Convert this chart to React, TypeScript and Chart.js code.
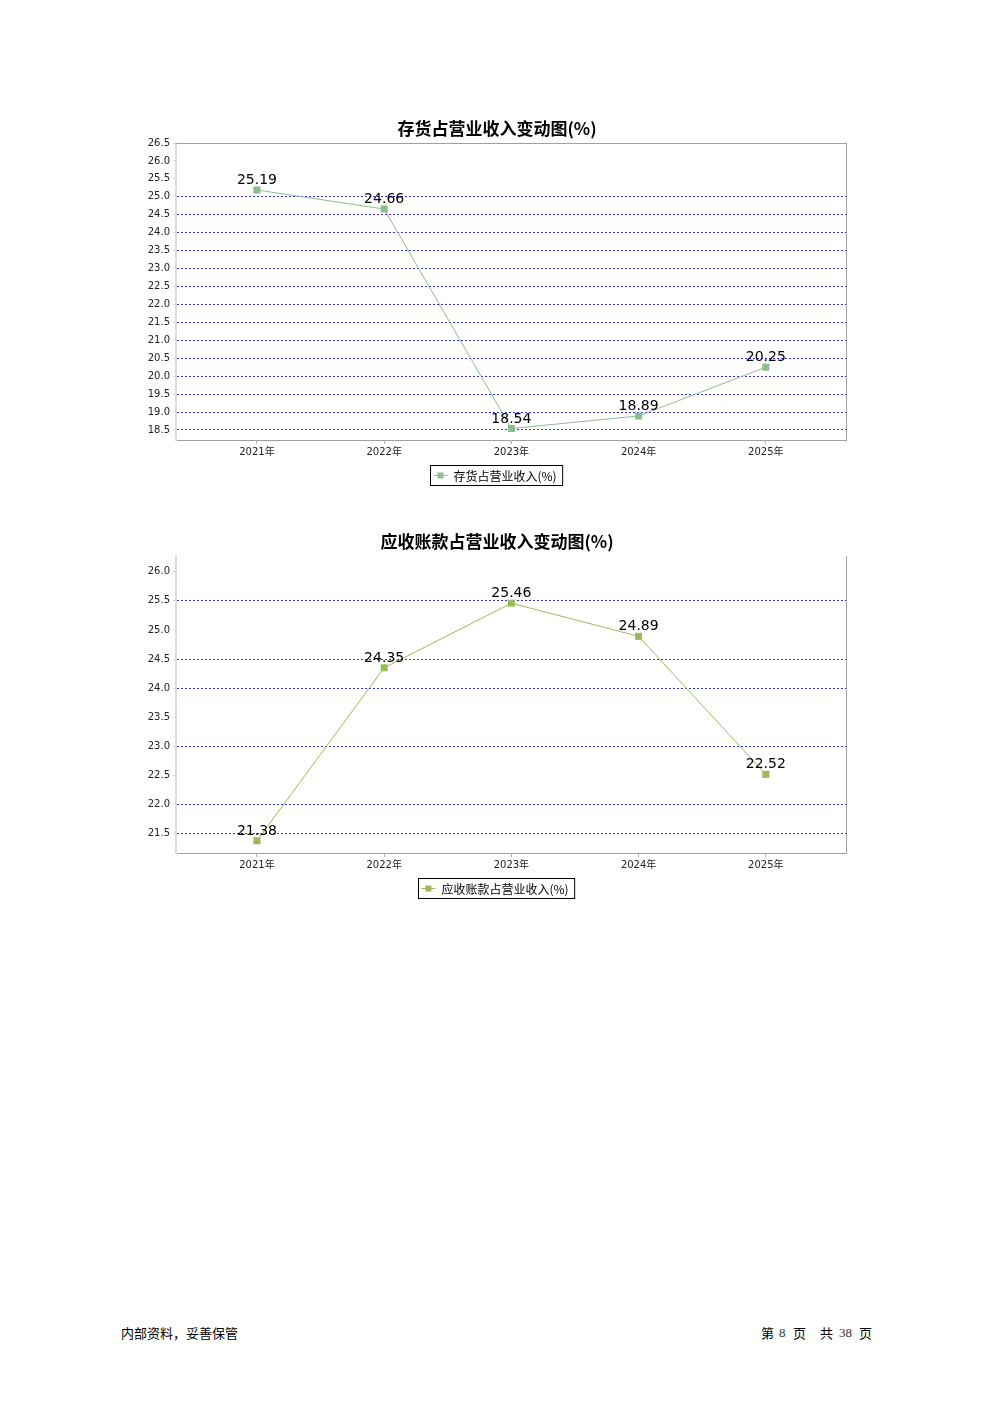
import React, { useEffect, useRef } from "react";
import { Chart, registerables } from "chart.js";

Chart.register(...registerables);

const years = ["2021年", "2022年", "2023年", "2024年", "2025年"];
const inventoryValues = [25.19, 24.66, 18.54, 18.89, 20.25];
const receivableValues = [21.38, 24.35, 25.46, 24.89, 22.52];
const inventoryTicks = [18.5, 19.0, 19.5, 20.0, 20.5, 21.0, 21.5, 22.0, 22.5, 23.0, 23.5, 24.0, 24.5, 25.0, 25.5, 26.0, 26.5];
const receivableTicks = [21.5, 22.0, 22.5, 23.0, 23.5, 24.0, 24.5, 25.0, 25.5, 26.0];
const inventoryHiddenGrid = [25.5, 26.0, 26.5];
const receivableHiddenGrid = [26.0, 25.0, 23.5, 22.5];

const CANVAS_W = 720;
const CANVAS_H = 390;
const CJK = "'Noto Sans CJK SC', 'DejaVu Sans', sans-serif";
const NUM = "'DejaVu Sans', 'Noto Sans CJK SC', sans-serif";

type PanelProps = {
  top: number;
  title: string;
  legend: string;
  values: number[];
  ticks: number[];
  hiddenGrid: number[];
  yMin: number;
  yMax: number;
  color: string;
  topBorder: boolean;
};

function Panel(props: PanelProps) {
  const ref = useRef<HTMLCanvasElement | null>(null);
  useEffect(() => {
    const canvas = ref.current;
    if (!canvas) return;
    const { title, legend, values, ticks, hiddenGrid, yMin, yMax, color, topBorder } = props;

    const decorPlugin = {
      id: "decor",
      beforeDatasetsDraw(chart: any) {
        const { ctx, chartArea } = chart;
        ctx.save();
        ctx.strokeStyle = "#a0a0a0";
        ctx.lineWidth = 1;
        ctx.beginPath();
        if (topBorder) {
          ctx.moveTo(chartArea.left, chartArea.top + 0.5);
          ctx.lineTo(chartArea.right, chartArea.top + 0.5);
        }
        ctx.moveTo(chartArea.right + 0.5, chartArea.top);
        ctx.lineTo(chartArea.right + 0.5, chartArea.bottom);
        ctx.stroke();
        ctx.restore();
      },
      afterDatasetsDraw(chart: any) {
        const { ctx } = chart;
        const meta = chart.getDatasetMeta(0);
        ctx.save();
        ctx.fillStyle = "#000";
        ctx.font = "14px " + NUM;
        ctx.textAlign = "center";
        ctx.textBaseline = "alphabetic";
        meta.data.forEach((pt: any, i: number) => {
          ctx.fillText(values[i].toFixed(2), pt.x, pt.y - 6);
        });
        ctx.restore();
      },
      afterDraw(chart: any) {
        const { ctx } = chart;
        ctx.save();
        // title
        ctx.fillStyle = "#000";
        ctx.font = "bold 17px " + CJK;
        ctx.textAlign = "center";
        ctx.textBaseline = "middle";
        ctx.fillText(title, 357, 19);
        // legend
        ctx.font = "12px " + CJK;
        const tw = ctx.measureText(legend).width;
        const bw = tw + 29;
        const bh = 20;
        const bx = Math.round(356 - bw / 2) + 0.5;
        const by = 355.5;
        ctx.strokeStyle = "#000";
        ctx.lineWidth = 1;
        ctx.strokeRect(bx, by, bw, bh);
        ctx.strokeStyle = color;
        ctx.beginPath();
        ctx.moveTo(bx + 3, by + bh / 2);
        ctx.lineTo(bx + 17, by + bh / 2);
        ctx.stroke();
        ctx.fillStyle = color;
        ctx.fillRect(bx + 7, by + bh / 2 - 3, 6, 6);
        ctx.fillStyle = "#000";
        ctx.textAlign = "left";
        ctx.fillText(legend, bx + 23, by + bh / 2 + 0.5);
        ctx.restore();
      },
    };

    const chart = new Chart(canvas, {
      type: "line",
      data: {
        datasets: [
          {
            label: legend,
            data: values.map((v, i) => ({ x: i, y: v })),
            borderColor: color,
            backgroundColor: color,
            borderWidth: 1,
            pointStyle: "rect",
            pointRadius: 5,
            pointBorderWidth: 0,
            pointBackgroundColor: color,
            pointBorderColor: color,
            tension: 0,
            fill: false,
          },
        ],
      },
      options: {
        animation: false,
        responsive: false,
        events: [],
        layout: { padding: { left: 0, right: 14, top: 33, bottom: 38 } },
        plugins: {
          legend: { display: false },
          title: { display: false },
          tooltip: { enabled: false },
        },
        scales: {
          x: {
            type: "linear",
            min: -0.636,
            max: 4.63,
            afterBuildTicks: (s: any) => {
              s.ticks = years.map((_, i) => ({ value: i }));
            },
            afterFit: (s: any) => {
              s.height = 22;
            },
            ticks: {
              callback: (v: any) => years[Math.round(Number(v))] ?? "",
              font: { family: NUM, size: 10 },
              color: "#222",
              padding: 2,
              maxRotation: 0,
              autoSkip: false,
            },
            grid: {
              drawOnChartArea: false,
              drawTicks: true,
              tickLength: 4,
              tickColor: "#b0b0b0",
            },
            border: { display: true, color: "#a0a0a0", width: 1 },
          },
          y: {
            type: "linear",
            min: yMin,
            max: yMax,
            afterBuildTicks: (s: any) => {
              s.ticks = ticks.map((t) => ({ value: t }));
            },
            afterFit: (s: any) => {
              s.width = 36;
            },
            ticks: {
              callback: (v: any) => Number(v).toFixed(1),
              font: { family: NUM, size: 10 },
              color: "#222",
              padding: 3,
            },
            grid: {
              color: (c: any) =>
                c.tick && hiddenGrid.some((h) => Math.abs(h - c.tick.value) < 1e-6) ? "rgba(0,0,0,0)" : "#2b2bff",
              lineWidth: 1,
              drawTicks: true,
              tickLength: 3,
              tickColor: "#d8d8d8",
            },
            border: { display: true, color: "#dcdcdc", width: 2, dash: [2, 2] },
          },
        },
      } as any,
      plugins: [decorPlugin],
    });
    return () => chart.destroy();
  }, []);

  return (
    <canvas
      ref={ref}
      width={CANVAS_W}
      height={CANVAS_H}
      style={{ position: "absolute", left: 140, top: props.top, width: CANVAS_W, height: CANVAS_H }}
    />
  );
}

const footStyle: React.CSSProperties = {
  position: "absolute",
  top: 1325,
  fontSize: 13,
  lineHeight: "16px",
  fontFamily: "'Noto Sans CJK SC', sans-serif",
  color: "#000",
  whiteSpace: "pre",
};
const footNum: React.CSSProperties = {
  ...footStyle,
  fontFamily: "'Liberation Serif', 'DejaVu Serif', serif",
  color: "#333",
};

export default function App() {
  return (
    <div style={{ position: "relative", width: 992, height: 1403 - 16, margin: 0 }}>
      <div style={{ position: "absolute", left: -8, top: -8, width: 992, height: 1403 }}>
        <Panel
          top={110}
          title="存货占营业收入变动图(%)"
          legend="存货占营业收入(%)"
          values={inventoryValues}
          ticks={inventoryTicks}
          hiddenGrid={inventoryHiddenGrid}
          yMin={18.22}
          yMax={26.5}
          color="#8fbc8f"
          topBorder={true}
        />
        <Panel
          top={523}
          title="应收账款占营业收入变动图(%)"
          legend="应收账款占营业收入(%)"
          values={receivableValues}
          ticks={receivableTicks}
          hiddenGrid={receivableHiddenGrid}
          yMin={21.17}
          yMax={26.27}
          color="#9bbb59"
          topBorder={false}
        />
        <div style={{ ...footStyle, left: 121 }}>内部资料，妥善保管</div>
        <div style={{ ...footStyle, left: 761 }}>第</div>
        <div style={{ ...footNum, left: 779 }}>8</div>
        <div style={{ ...footStyle, left: 793 }}>页</div>
        <div style={{ ...footStyle, left: 820 }}>共</div>
        <div style={{ ...footNum, left: 839 }}>38</div>
        <div style={{ ...footStyle, left: 859 }}>页</div>
      </div>
    </div>
  );
}
